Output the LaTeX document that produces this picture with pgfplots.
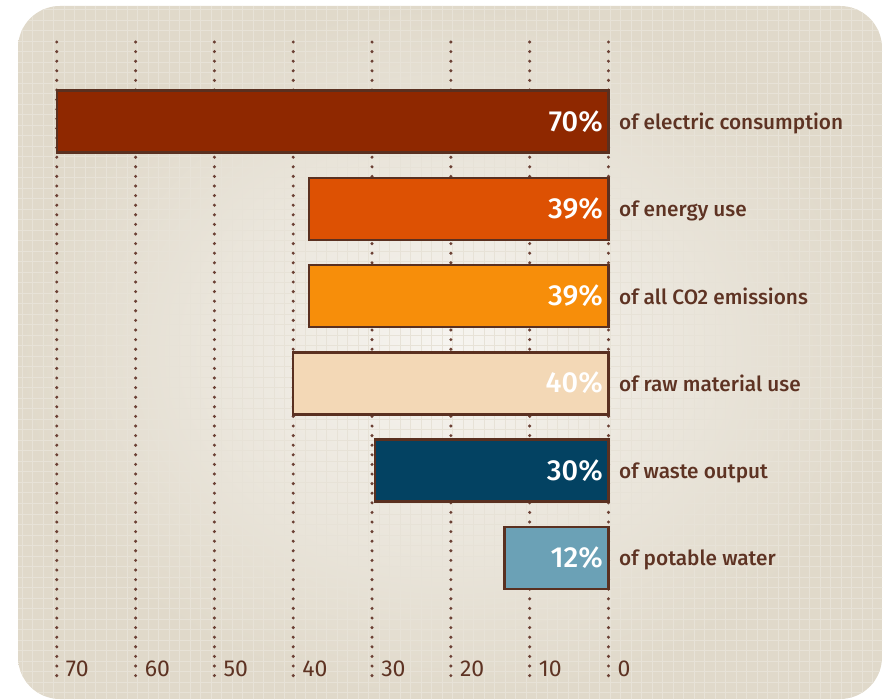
\documentclass[border=0pt]{standalone}
\usepackage{pgfplots}
\pgfplotsset{compat=1.18}
\usepackage{fontspec}
\setmainfont{Fira Sans}
\newfontfamily\descfont{Fira Sans Medium}
\newcommand\tl[1]{\fontsize{23}{23}\selectfont #1}
\definecolor{txt}{HTML}{5E3323}
\definecolor{dotc}{HTML}{6B4034}
\definecolor{edge}{HTML}{5A3020}
\definecolor{cA}{HTML}{8F2800}
\definecolor{cB}{HTML}{DD5103}
\definecolor{cC}{HTML}{F78E0A}
\definecolor{cD}{HTML}{F3D8B6}
\definecolor{cE}{HTML}{034262}
\definecolor{cF}{HTML}{6BA1B6}
\definecolor{panelout}{HTML}{E0D9CA}
\definecolor{panelin}{HTML}{F7F5F1}
\definecolor{gridc}{HTML}{E7E2D7}
\begin{document}
\begin{tikzpicture}[x=1pt,y=1pt]
\path[fill=white] (0,0) rectangle (884,-700);
\begin{scope}
\clip[rounded corners=42pt] (18,-6) rectangle (882,-699);
\shade[inner color=panelin, outer color=panelout] (18,-6) rectangle (882,-699);
\foreach \i in {0,...,83} {\draw[gridc, line width=1pt] (22+10.5*\i,-6) -- (22+10.5*\i,-700);}
\foreach \i in {0,...,66} {\draw[gridc, line width=1pt] (18,-10-10.5*\i) -- (884,-10-10.5*\i);}
\end{scope}
\begin{axis}[
  at={(56.8pt,-678pt)}, anchor=south west,
  width=551.7pt, height=636pt, scale only axis,
  xmin=0, xmax=70, x dir=reverse,
  ymin=-0.911, ymax=6.375, y dir=reverse,
  axis line style={draw=none},
  xtick={0,10,20,30,40,50,60,70},
  xticklabels={\tl{0},\tl{10},\tl{20},\tl{30},\tl{40},\tl{50},\tl{60},\tl{70}},
  ytick=\empty,
  major tick length=0pt,
  /pgf/number format/assume math mode=true,
  xmajorgrids,
  major grid style={draw=dotc, line width=3.4pt, line cap=round, dash pattern=on 0pt off 9.6pt},
  xticklabel style={anchor=base west, inner sep=0pt, xshift=9pt, yshift=1.5pt, text=txt},
  clip=false,
]
\addplot[xbar, bar shift=0pt, bar width=62pt, fill=cA, draw=edge, line width=2.5pt] coordinates {(70,0)};
\addplot[xbar, bar shift=0pt, bar width=62pt, fill=cB, draw=edge, line width=2.5pt] coordinates {(38,1)};
\addplot[xbar, bar shift=0pt, bar width=62pt, fill=cC, draw=edge, line width=2.5pt] coordinates {(38,2)};
\addplot[xbar, bar shift=0pt, bar width=62pt, fill=cD, draw=edge, line width=2.5pt] coordinates {(40,3)};
\addplot[xbar, bar shift=0pt, bar width=62pt, fill=cE, draw=edge, line width=2.5pt] coordinates {(29.6,4)};
\addplot[xbar, bar shift=0pt, bar width=62pt, fill=cF, draw=edge, line width=2.5pt] coordinates {(13.2,5)};
\foreach \v/\i in {70/0,39/1,39/2,40/3,30/4,12/5} {
  \edef\temp{\noexpand\node[anchor=base east, inner sep=0pt, text=white, font=\noexpand\descfont\noexpand\fontsize{29}{29}\noexpand\selectfont] at ([xshift=-5.5pt,yshift=-9.5pt]axis cs:0,\i) {\v\noexpand\%};}
  \temp
}
\foreach \t [count=\i from 0] in {of electric consumption,of energy use,of all CO2 emissions,of raw material use,of waste output,of potable water} {
  \edef\temp{\noexpand\node[anchor=base west, inner sep=0pt, text=txt, font=\noexpand\descfont\noexpand\fontsize{20.8}{21}\noexpand\selectfont] at ([xshift=10.5pt,yshift=-8pt]axis cs:0,\i) {\t};}
  \temp
}
\end{axis}
\end{tikzpicture}
\end{document}
